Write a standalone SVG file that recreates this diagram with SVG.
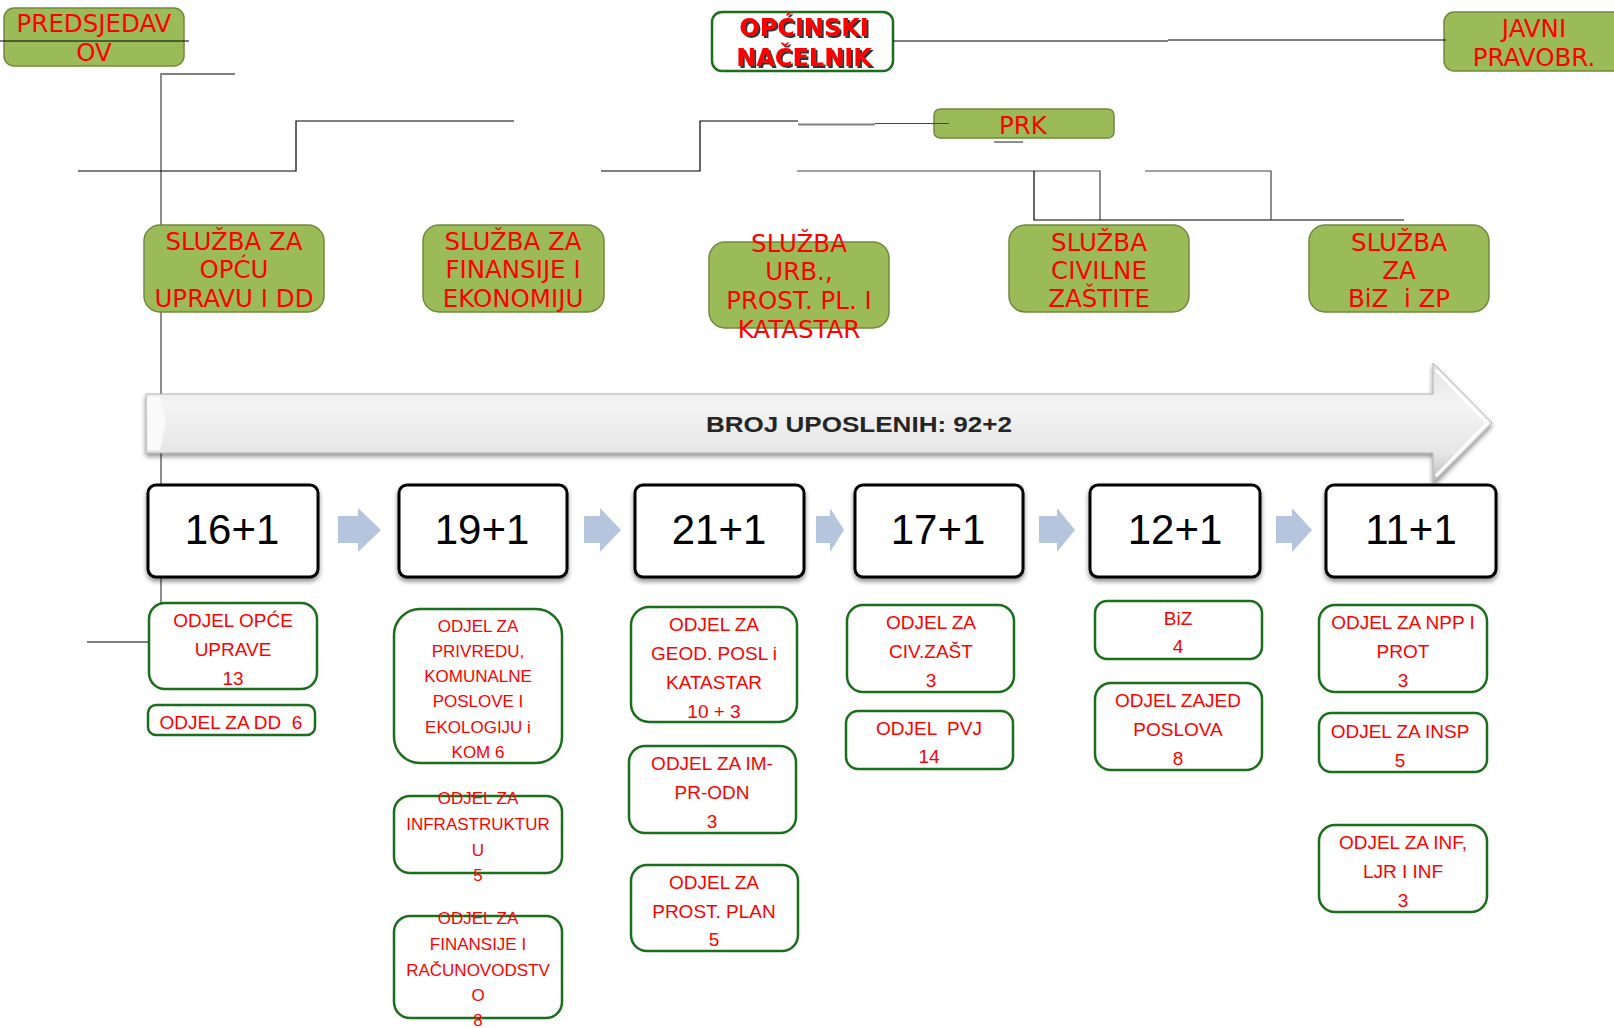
<svg xmlns="http://www.w3.org/2000/svg" width="1614" height="1028" viewBox="0 0 1614 1028">
<defs>
<linearGradient id="bar" x1="0" y1="0" x2="0" y2="1">
<stop offset="0" stop-color="#e2e2e2"/>
<stop offset="0.35" stop-color="#f4f4f4"/>
<stop offset="0.75" stop-color="#e6e6e6"/>
<stop offset="1" stop-color="#bdbdbd"/>
</linearGradient>
<filter id="sh" x="-5%" y="-20%" width="110%" height="150%">
<feGaussianBlur in="SourceAlpha" stdDeviation="2.5"/>
<feOffset dx="0" dy="3"/>
<feComponentTransfer><feFuncA type="linear" slope="0.45"/></feComponentTransfer>
<feMerge><feMergeNode/><feMergeNode in="SourceGraphic"/></feMerge>
</filter>
<filter id="ts" x="-10%" y="-10%" width="120%" height="130%">
<feOffset in="SourceAlpha" dx="1.5" dy="1.5"/>
<feComponentTransfer><feFuncA type="linear" slope="0.8"/></feComponentTransfer>
<feMerge><feMergeNode/><feMergeNode in="SourceGraphic"/></feMerge>
</filter>
<style>
.g{fill:#9bbb59;stroke:#71893f;stroke-width:1.5}
.gt{font-family:"DejaVu Sans",Verdana,sans-serif;font-size:24.5px;fill:#ff0000;text-anchor:middle}
.o{fill:#ffffff;stroke:#1b6e1b;stroke-width:2.5}
.ot{font-family:"Liberation Sans",Arial,sans-serif;font-size:19px;fill:#ff0000;text-anchor:middle;white-space:pre}
.os{font-size:17px}
.n{fill:#ffffff;stroke:#000000;stroke-width:3}
.nt{font-family:"Liberation Sans",Arial,sans-serif;font-size:42px;fill:#000000;text-anchor:middle}
.ch{fill:#b6c5de}
.k{stroke:#000000;stroke-width:1.2;fill:none}
.gr{stroke:#808080;stroke-width:1.8;fill:none}
.dg{stroke:#444444;stroke-width:1.2;fill:none}
</style>
</defs>
<rect width="1614" height="1028" fill="#ffffff"/>

<g id="predsjedavajuci">
<rect class="g" x="4" y="8" width="180" height="58" rx="10"/>
<text class="gt" x="94" y="32">PREDSJEDAV</text>
<text class="gt" x="94" y="61">OV</text>
</g>

<g id="nacelnik">
<rect class="o" x="712" y="12" width="181" height="59" rx="10"/>
<g filter="url(#ts)">
<text x="804" y="36" font-family="'DejaVu Sans',Verdana,sans-serif" font-weight="bold" font-size="24" fill="#ff0000" text-anchor="middle">OPĆINSKI</text>
<text x="804" y="66" font-family="'DejaVu Sans',Verdana,sans-serif" font-weight="bold" font-size="24" fill="#ff0000" text-anchor="middle">NAČELNIK</text>
</g>
</g>

<g id="pravobranilac">
<rect class="g" x="1444" y="12" width="190" height="59" rx="10"/>
<text class="gt" x="1534" y="37">JAVNI</text>
<text class="gt" x="1534" y="66">PRAVOBR.</text>
</g>

<g id="prk">
<rect class="g" x="934" y="109" width="180" height="29" rx="6"/>
<text class="gt" x="1023" y="134">PRK</text>
</g>

<g id="connectors">
<path class="k" d="M0 41H189"/>
<path class="gr" d="M235 74H161V642H87"/>
<path class="k" d="M78 171H296V121H514"/>
<path class="k" d="M601 171H700V121H798"/>
<path class="gr" d="M798 124.5H875"/>
<path class="dg" d="M875 123.5H949"/>
<path class="gr" d="M994 142H1023"/>
<path class="k" d="M893 41H1168"/>
<path class="k" d="M1168 40H1446"/>
<path class="dg" d="M797 171H1100V220"/>
<path class="k" d="M1034 171V220H1404"/>
<path class="dg" d="M1145 171H1271V220"/>
</g>

<g id="sluzba-opca">
<rect class="g" x="144" y="225" width="180" height="87" rx="16"/>
<text class="gt" x="234" y="250">SLUŽBA ZA</text>
<text class="gt" x="234" y="278">OPĆU</text>
<text class="gt" x="234" y="307">UPRAVU I DD</text>
</g>
<g id="sluzba-finansije">
<rect class="g" x="423" y="225" width="181" height="87" rx="16"/>
<text class="gt" x="513" y="250">SLUŽBA ZA</text>
<text class="gt" x="513" y="278">FINANSIJE I</text>
<text class="gt" x="513" y="307">EKONOMIJU</text>
</g>
<g id="sluzba-urb">
<rect class="g" x="709" y="242" width="180" height="86" rx="16"/>
<text class="gt" x="799" y="252">SLUŽBA</text>
<text class="gt" x="799" y="280">URB.,</text>
<text class="gt" x="799" y="309">PROST. PL. I</text>
<text class="gt" x="799" y="338">KATASTAR</text>
</g>
<g id="sluzba-civilne">
<rect class="g" x="1009" y="225" width="180" height="87" rx="16"/>
<text class="gt" x="1099" y="251">SLUŽBA</text>
<text class="gt" x="1099" y="279">CIVILNE</text>
<text class="gt" x="1099" y="307">ZAŠTITE</text>
</g>
<g id="sluzba-biz">
<rect class="g" x="1309" y="225" width="180" height="87" rx="16"/>
<text class="gt" x="1399" y="251">SLUŽBA</text>
<text class="gt" x="1399" y="279">ZA</text>
<text class="gt" x="1399" y="307" style="white-space:pre">BiZ  i ZP</text>
</g>

<g id="broj-uposlenih">
<path d="M146 394H1433V363L1492 423L1433 483V453H146Z" fill="url(#bar)" stroke="#b0b0b0" stroke-width="1" filter="url(#sh)"/>
<path d="M1436 370L1487 423L1436 476" fill="none" stroke="#ffffff" stroke-width="3"/>
<path d="M148 397L160 397L166 423L160 450L148 450Z" fill="#fafafa"/>
<text x="859" y="432" font-family="'Liberation Sans',Arial,sans-serif" font-weight="bold" font-size="22" fill="#262626" text-anchor="middle" textLength="306" lengthAdjust="spacingAndGlyphs">BROJ UPOSLENIH: 92+2</text>
</g>

<g id="broj-1"><rect class="n" x="148" y="485" width="170" height="92" rx="8" filter="url(#sh)"/><text class="nt" x="232" y="544">16+1</text></g>
<g id="broj-2"><rect class="n" x="399" y="485" width="168" height="92" rx="8" filter="url(#sh)"/><text class="nt" x="482" y="544">19+1</text></g>
<g id="broj-3"><rect class="n" x="635" y="485" width="169" height="92" rx="8" filter="url(#sh)"/><text class="nt" x="719" y="544">21+1</text></g>
<g id="broj-4"><rect class="n" x="855" y="485" width="168" height="92" rx="8" filter="url(#sh)"/><text class="nt" x="938" y="544">17+1</text></g>
<g id="broj-5"><rect class="n" x="1090" y="485" width="170" height="92" rx="8" filter="url(#sh)"/><text class="nt" x="1175" y="544">12+1</text></g>
<g id="broj-6"><rect class="n" x="1326" y="485" width="170" height="92" rx="8" filter="url(#sh)"/><text class="nt" x="1411" y="544">11+1</text></g>

<g id="strelice">
<path class="ch" d="M338 516H358V508L381 530L358 552V543H338Z"/>
<path class="ch" d="M584 516H600V508L621 530L600 552V543H584Z"/>
<path class="ch" d="M816 516H830V508L844 530L830 552V543H816Z"/>
<path class="ch" d="M1039 516H1057V508L1075 530L1057 552V543H1039Z"/>
<path class="ch" d="M1276 516H1292V508L1312 530L1292 552V543H1276Z"/>
</g>

<g id="odjel-opce">
<rect class="o" x="149" y="603" width="168" height="86" rx="16"/>
<text class="ot" x="233" y="627">ODJEL OPĆE</text>
<text class="ot" x="233" y="656">UPRAVE</text>
<text class="ot" x="233" y="685">13</text>
</g>
<g id="odjel-dd">
<rect class="o" x="148" y="705" width="167" height="30" rx="8"/>
<text class="ot" x="231" y="729">ODJEL ZA DD  6</text>
</g>
<g id="odjel-privreda">
<rect class="o" x="394" y="609" width="168" height="154" rx="26"/>
<text class="ot os" x="478" y="632">ODJEL ZA</text>
<text class="ot os" x="478" y="657">PRIVREDU,</text>
<text class="ot os" x="478" y="682">KOMUNALNE</text>
<text class="ot os" x="478" y="707">POSLOVE I</text>
<text class="ot os" x="478" y="733">EKOLOGIJU i</text>
<text class="ot os" x="478" y="758">KOM 6</text>
</g>
<g id="odjel-infrastruktura">
<rect class="o" x="394" y="796" width="168" height="77" rx="16"/>
<text class="ot os" x="478" y="804">ODJEL ZA</text>
<text class="ot os" x="478" y="830">INFRASTRUKTUR</text>
<text class="ot os" x="478" y="856">U</text>
<text class="ot os" x="478" y="881">5</text>
</g>
<g id="odjel-finansije">
<rect class="o" x="394" y="916" width="168" height="102" rx="16"/>
<text class="ot os" x="478" y="924">ODJEL ZA</text>
<text class="ot os" x="478" y="950">FINANSIJE I</text>
<text class="ot os" x="478" y="976">RAČUNOVODSTV</text>
<text class="ot os" x="478" y="1001">O</text>
<text class="ot os" x="478" y="1026">8</text>
</g>
<g id="odjel-geod">
<rect class="o" x="631" y="607" width="166" height="115" rx="18"/>
<text class="ot" x="714" y="631">ODJEL ZA</text>
<text class="ot" x="714" y="660">GEOD. POSL i</text>
<text class="ot" x="714" y="689">KATASTAR</text>
<text class="ot" x="714" y="718">10 + 3</text>
</g>
<g id="odjel-impr">
<rect class="o" x="629" y="746" width="167" height="87" rx="16"/>
<text class="ot" x="712" y="770">ODJEL ZA IM-</text>
<text class="ot" x="712" y="799">PR-ODN</text>
<text class="ot" x="712" y="828">3</text>
</g>
<g id="odjel-prost">
<rect class="o" x="631" y="865" width="167" height="86" rx="16"/>
<text class="ot" x="714" y="889">ODJEL ZA</text>
<text class="ot" x="714" y="918">PROST. PLAN</text>
<text class="ot" x="714" y="946">5</text>
</g>
<g id="odjel-civ">
<rect class="o" x="847" y="605" width="167" height="87" rx="16"/>
<text class="ot" x="931" y="629">ODJEL ZA</text>
<text class="ot" x="931" y="658">CIV.ZAŠT</text>
<text class="ot" x="931" y="687">3</text>
</g>
<g id="odjel-pvj">
<rect class="o" x="846" y="711" width="167" height="58" rx="12"/>
<text class="ot" x="929" y="735">ODJEL  PVJ</text>
<text class="ot" x="929" y="763">14</text>
</g>
<g id="odjel-biz">
<rect class="o" x="1095" y="601" width="167" height="58" rx="12"/>
<text class="ot" x="1178" y="625">BiZ</text>
<text class="ot" x="1178" y="653">4</text>
</g>
<g id="odjel-zajed">
<rect class="o" x="1095" y="683" width="167" height="87" rx="16"/>
<text class="ot" x="1178" y="707">ODJEL ZAJED</text>
<text class="ot" x="1178" y="736">POSLOVA</text>
<text class="ot" x="1178" y="765">8</text>
</g>
<g id="odjel-npp">
<rect class="o" x="1319" y="605" width="168" height="87" rx="16"/>
<text class="ot" x="1403" y="629">ODJEL ZA NPP I</text>
<text class="ot" x="1403" y="658">PROT</text>
<text class="ot" x="1403" y="687">3</text>
</g>
<g id="odjel-insp">
<rect class="o" x="1319" y="713" width="168" height="59" rx="12"/>
<text class="ot" x="1400" y="738">ODJEL ZA INSP</text>
<text class="ot" x="1400" y="767">5</text>
</g>
<g id="odjel-inf">
<rect class="o" x="1319" y="825" width="168" height="87" rx="16"/>
<text class="ot" x="1403" y="849">ODJEL ZA INF,</text>
<text class="ot" x="1403" y="878">LJR I INF</text>
<text class="ot" x="1403" y="907">3</text>
</g>
</svg>
